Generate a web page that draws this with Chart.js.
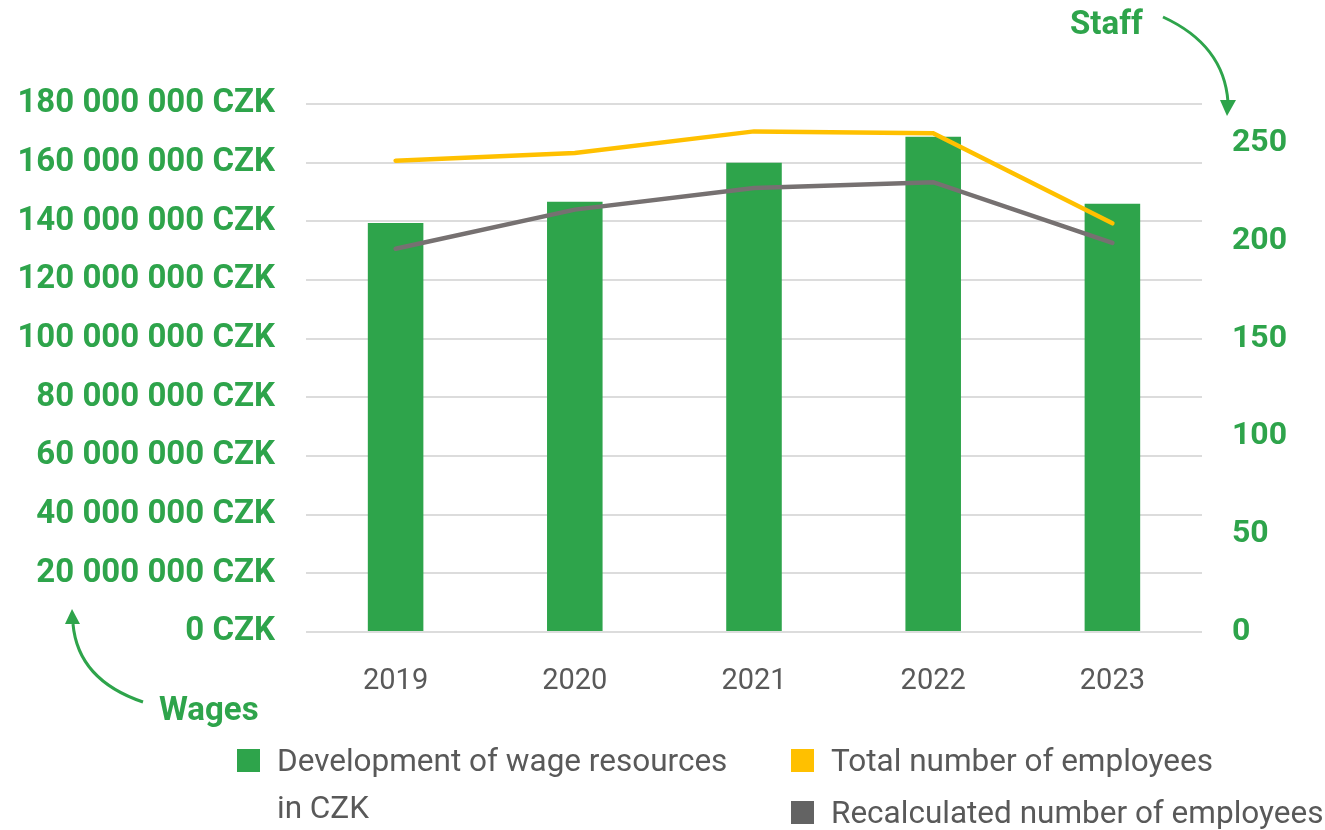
<!DOCTYPE html>
<html>
<head>
<meta charset="utf-8">
<script src="https://cdn.jsdelivr.net/npm/chart.js@4.4.1/dist/chart.umd.min.js"></script>
<style>
  body { margin: 0; background: #fff; }
  #wrap { position: relative; width: 1325px; height: 830px; }
  #legend { position: absolute; left: 0; top: 0; font-family: Roboto, sans-serif; color: #595959; font-size: 31.5px; }
  .item { position: absolute; line-height: 47px; }
  .item .box { position: absolute; left: 0; top: 12px; width: 23px; height: 23px; }
  .item .txt { padding-left: 40px; }
</style>
</head>
<body>
<div id="wrap">
  <canvas id="chart" width="1325" height="830"></canvas>
  <div id="legend"></div>
</div>
<script>
// data
const years = ['2019', '2020', '2021', '2022', '2023'];
const wages = [139400000, 146700000, 160000000, 168800000, 146000000];
const totalStaff = [241, 245, 256, 255, 209];
const recalcStaff = [196, 216, 227, 230, 199];
const wageTicks = [0, 20000000, 40000000, 60000000, 80000000, 100000000, 120000000, 140000000, 160000000, 180000000];
const staffTicks = [0, 50, 100, 150, 200, 250];

const green = '#2ea44b';
const yellow = '#ffc000';
const grey = '#767171';

function fmtCzk(v) {
    return String(v).replace(/\B(?=(\d{3})+(?!\d))/g, ' ') + ' CZK';
}

// side notes "Staff" / "Wages" with curved arrows
const notes = {
    id: 'notes',
    afterDraw(chart) {
        const c = chart.ctx;
        const a = chart.chartArea;
        c.save();
        c.fillStyle = green;
        c.strokeStyle = green;
        c.font = 'bold 33px Roboto';
        c.textBaseline = 'middle';
        c.fillText('Staff', a.right - 132, 26);
        c.fillText('Wages', 159, 712);
        c.lineWidth = 3;
        // staff arrow
        c.beginPath();
        c.moveTo(a.right - 39, 17);
        c.quadraticCurveTo(a.right + 22, 45, a.right + 26, 102);
        c.stroke();
        c.beginPath();
        c.moveTo(a.right + 18, 100);
        c.lineTo(a.right + 34, 100);
        c.lineTo(a.right + 25, 116);
        c.closePath();
        c.fill();
        // wages arrow
        c.beginPath();
        c.moveTo(143, 702);
        c.quadraticCurveTo(78, 680, 73, 624);
        c.stroke();
        c.beginPath();
        c.moveTo(65, 624);
        c.lineTo(80, 624);
        c.lineTo(72, 609);
        c.closePath();
        c.fill();
        c.restore();
    }
};

const ctx = document.getElementById('chart').getContext('2d');
const chart = new Chart(ctx, {
    type: 'bar',
    data: {
        labels: years,
        datasets: [
            { label: 'Development of wage resources in CZK', data: wages, backgroundColor: green, yAxisID: 'y', order: 2,
              barPercentage: 0.31, categoryPercentage: 1 },
            { type: 'line', label: 'Total number of employees', data: totalStaff, borderColor: yellow, backgroundColor: yellow,
              borderWidth: 4.5, pointRadius: 0, tension: 0, borderCapStyle: 'round', yAxisID: 'y1', order: 1 },
            { type: 'line', label: 'Recalculated number of employees', data: recalcStaff, borderColor: grey, backgroundColor: '#636363',
              borderWidth: 4.5, pointRadius: 0, tension: 0, borderCapStyle: 'round', yAxisID: 'y1', order: 1 }
        ]
    },
    options: {
        responsive: false,
        animation: false,
        layout: { padding: { top: 104, left: 0, right: 0, bottom: 0 } },
        plugins: { legend: { display: false }, tooltip: { enabled: false } },
        scales: {
            x: {
                grid: { display: false },
                border: { display: false },
                ticks: { color: '#595959', font: { family: 'Roboto', size: 29 }, padding: 24 },
                afterFit(s) { s.height = 198; }
            },
            y: {
                position: 'left',
                min: 0, max: wageTicks[wageTicks.length - 1],
                afterBuildTicks(s) { s.ticks = wageTicks.map(v => ({ value: v })); },
                grid: { color: '#dcdcdc', lineWidth: 2, drawTicks: false },
                border: { display: false },
                ticks: { color: green, font: { family: 'Roboto', size: 33, weight: 'bold' }, padding: 31, callback: v => fmtCzk(v) },
                afterFit(s) { s.width = 306; }
            },
            y1: {
                position: 'right',
                min: 0, max: 270,
                afterBuildTicks(s) { s.ticks = staffTicks.map(v => ({ value: v })); },
                grid: { display: false, drawTicks: false },
                border: { display: false },
                ticks: { color: green, font: { family: 'Roboto', size: 32, weight: 'bold' }, padding: 30 },
                afterFit(s) { s.width = 123; }
            }
        }
    },
    plugins: [notes]
});

// legend in two columns like the original; first entry wraps after "resources"
const legend = document.getElementById('legend');
const spots = [[237, 737, 515, 'normal'], [791, 737, 534, 'nowrap'], [791, 789, 534, 'nowrap']];
chart.data.datasets.forEach((ds, i) => {
    const it = document.createElement('div');
    it.className = 'item';
    it.style.left = spots[i][0] + 'px';
    it.style.top = spots[i][1] + 'px';
    it.style.width = spots[i][2] + 'px';
    it.style.whiteSpace = spots[i][3];
    it.innerHTML = '<span class="box" style="background:' + ds.backgroundColor + '"></span><div class="txt">' + ds.label + '</div>';
    legend.appendChild(it);
});
</script>
</body>
</html>
